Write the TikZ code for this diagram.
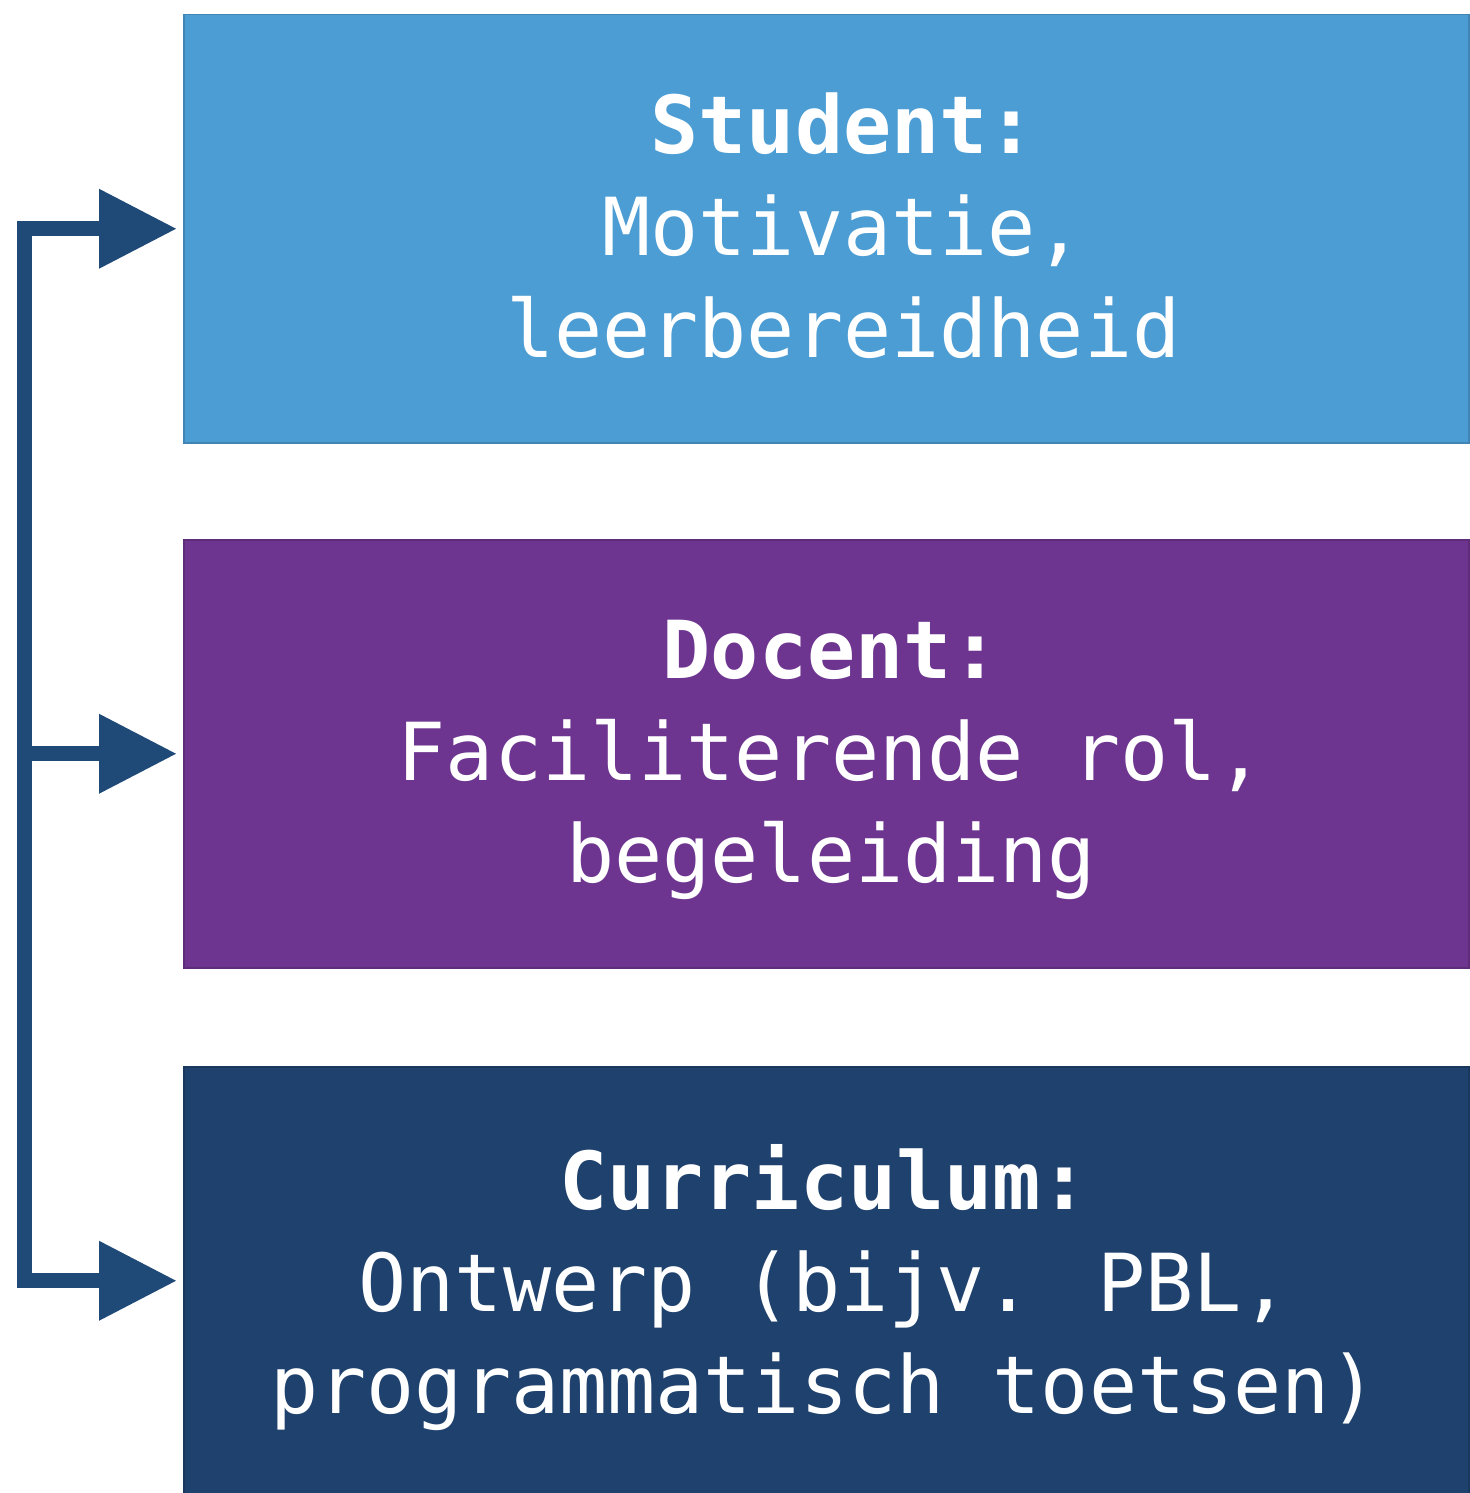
\documentclass[tikz,border=0pt]{standalone}
\usepackage{fontspec}
\newfontfamily\boxmono{DejaVu Sans Mono}
\usetikzlibrary{arrows.meta}
\definecolor{cblue}{HTML}{4B9DD4}
\definecolor{cpurple}{HTML}{6D358F}
\definecolor{cnavy}{HTML}{1F416D}
\definecolor{carrow}{HTML}{1F4A78}
\begin{document}
\begin{tikzpicture}[x=1pt,y=-1pt,
  box/.style={rectangle, minimum width=1285pt, minimum height=428pt, inner sep=0pt, anchor=north west, line width=1.5pt},
  boxtext/.style={text=white, font=\boxmono\fontsize{80}{102}\selectfont, align=center, text depth=0pt, inner sep=0pt},
  conn/.style={draw=carrow, line width=15pt, line join=miter, line cap=butt},
  arrtip/.tip={Triangle[length=77pt,width=80pt,line width=0pt]}
]
\fill[white] (0,0) rectangle (1469,1493);
\useasboundingbox (0,0) rectangle (1469,1493);

\node[box, fill=cblue, draw=cblue!85!black] (s) at (183,14) {};
\node[box, fill=cpurple, draw=cpurple!85!black] (d) at (183,539) {};
\node[box, fill=cnavy, draw=cnavy!85!black] (c) at (183,1066) {};

\node[boxtext, xshift=17pt, yshift=4pt] (st) at (s.center) {\textbf{Student:}\\Motivatie,\\leerbereidheid};
\node[boxtext, xshift=5pt, yshift=2pt] (dt) at (d.center) {\textbf{Docent:}\\Faciliterende rol,\\begeleiding};
\node[boxtext, xshift=-2pt, yshift=2pt] (ct) at (c.center) {\textbf{Curriculum:}\\Ontwerp (bijv. PBL,\\programmatisch toetsen)};

\coordinate (sp) at (24,0);
\draw[conn, arrtip-arrtip] ([xshift=-7pt]s.west) -| (sp |- d.west) |- ([xshift=-7pt]c.west);
\draw[conn, -arrtip] (sp |- d.west) -- ([xshift=-7pt]d.west);
\end{tikzpicture}
\end{document}
